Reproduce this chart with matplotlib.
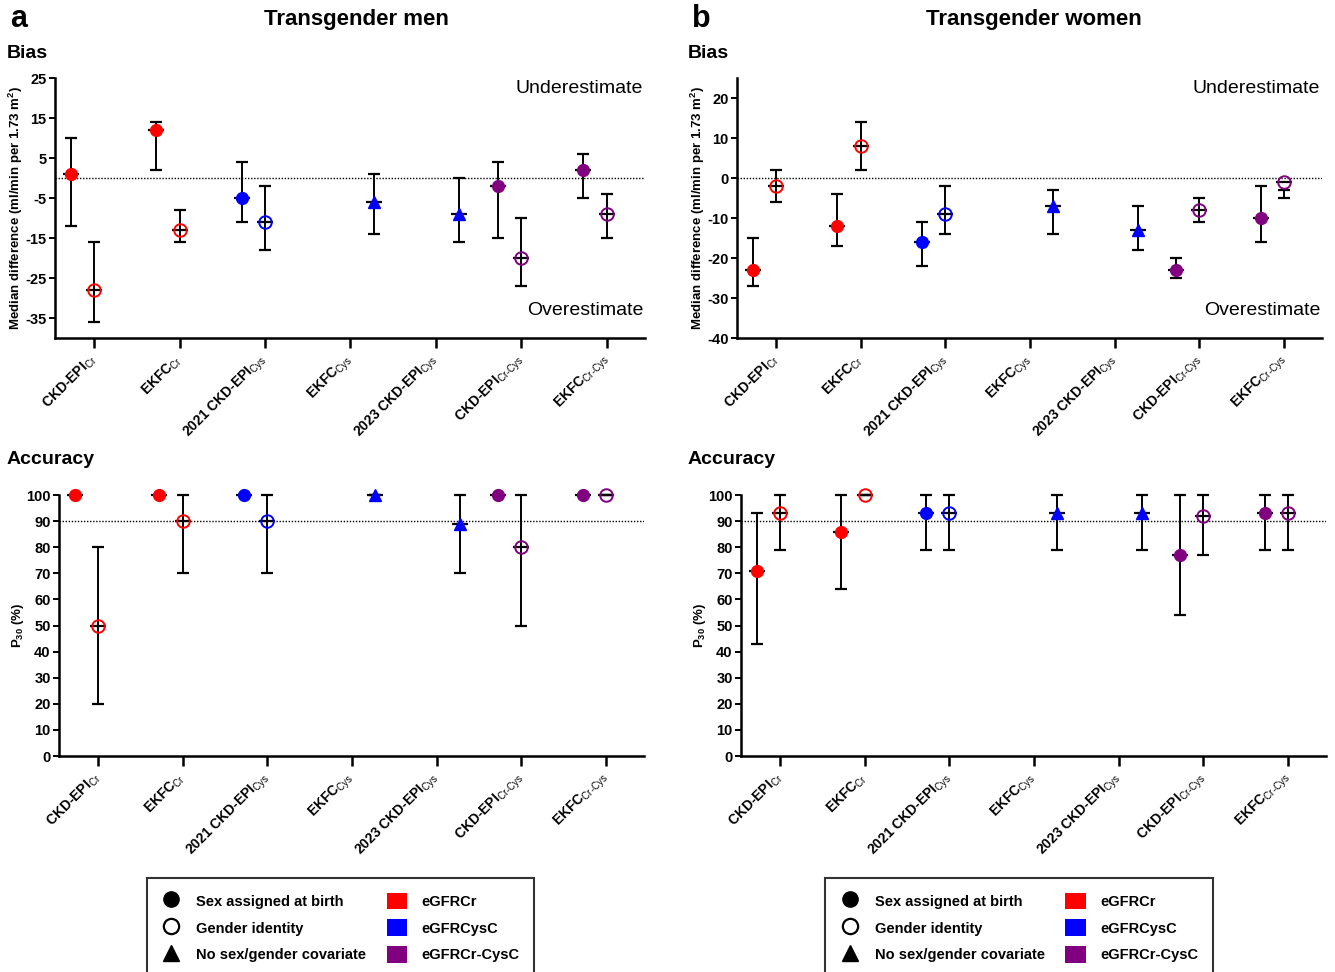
import matplotlib
matplotlib.use('Agg')
import matplotlib.pyplot as plt
from matplotlib.lines import Line2D
from matplotlib.patches import Patch

plt.rcParams['font.family'] = ['Liberation Sans', 'DejaVu Sans']
plt.rcParams['mathtext.fontset'] = 'custom'
plt.rcParams['mathtext.rm'] = 'Liberation Sans'
plt.rcParams['mathtext.bf'] = 'Liberation Sans:bold'
plt.rcParams['mathtext.it'] = 'Liberation Sans:italic'

# ---------------- data ----------------
methods = [r'CKD-EPI$_{\mathrm{Cr}}$', r'EKFC$_{\mathrm{Cr}}$',
           r'2021 CKD-EPI$_{\mathrm{Cys}}$', r'EKFC$_{\mathrm{Cys}}$',
           r'2023 CKD-EPI$_{\mathrm{Cys}}$', r'CKD-EPI$_{\mathrm{Cr\text{-}Cys}}$',
           r'EKFC$_{\mathrm{Cr\text{-}Cys}}$']

point_method = [0, 0, 1, 1, 2, 2, 3, 4, 5, 5, 6, 6]
point_covariate = ['sex', 'gender', 'sex', 'gender', 'sex', 'gender',
                   'none', 'none', 'sex', 'gender', 'sex', 'gender']
point_egfr = ['eGFRCr', 'eGFRCr', 'eGFRCr', 'eGFRCr', 'eGFRCysC', 'eGFRCysC',
              'eGFRCysC', 'eGFRCysC', 'eGFRCr-CysC', 'eGFRCr-CysC',
              'eGFRCr-CysC', 'eGFRCr-CysC']

men_bias_med = [1, -28, 12, -13, -5, -11, -6, -9, -2, -20, 2, -9]
men_bias_lo = [-12, -36, 2, -16, -11, -18, -14, -16, -15, -27, -5, -15]
men_bias_hi = [10, -16, 14, -8, 4, -2, 1, 0, 4, -10, 6, -4]

women_bias_med = [-23, -2, -12, 8, -16, -9, -7, -13, -23, -8, -10, -1]
women_bias_lo = [-27, -6, -17, 2, -22, -14, -14, -18, -25, -11, -16, -5]
women_bias_hi = [-15, 2, -4, 14, -11, -2, -3, -7, -20, -5, -2, -3]

men_p30_med = [100, 50, 100, 90, 100, 90, 100, 89, 100, 80, 100, 100]
men_p30_lo = [100, 20, 100, 70, 100, 70, 100, 70, 100, 50, 100, 100]
men_p30_hi = [100, 80, 100, 100, 100, 100, 100, 100, 100, 100, 100, 100]

women_p30_med = [71, 93, 86, 100, 93, 93, 93, 93, 77, 92, 93, 93]
women_p30_lo = [43, 79, 64, 100, 79, 79, 79, 79, 54, 77, 79, 79]
women_p30_hi = [93, 100, 100, 100, 100, 100, 100, 100, 100, 100, 100, 100]

bias_ticks_men = [25, 15, 5, -5, -15, -25, -35]
bias_ticks_women = [20, 10, 0, -10, -20, -30, -40]
p30_ticks = [0, 10, 20, 30, 40, 50, 60, 70, 80, 90, 100]

legend_covariates = ['Sex assigned at birth', 'Gender identity', 'No sex/gender covariate']
legend_egfr = ['eGFRCr', 'eGFRCysC', 'eGFRCr-CysC']

# ---------------- styles ----------------
colors = {'eGFRCr': '#FF0000', 'eGFRCysC': '#0000FF', 'eGFRCr-CysC': '#800080'}
cov_offset = {'sex': -0.275, 'gender': 0.0, 'none': 0.275}
cov_marker = {'sex': 'o', 'gender': 'o', 'none': '^'}

W, H = 1335, 972
fig = plt.figure(figsize=(W / 100, H / 100), dpi=100)


def rect(x0, y_top, x1, y_bot):
    return [x0 / W, 1 - y_bot / H, (x1 - x0) / W, (y_bot - y_top) / H]


ax_tl = fig.add_axes(rect(55, 78, 645, 338))
ax_tr = fig.add_axes(rect(737, 78, 1322, 338))
ax_bl = fig.add_axes(rect(59, 495, 644, 756))
ax_br = fig.add_axes(rect(741, 495, 1326, 756))


def draw(ax, med, lo, hi, ylim, yticks, ylabel, refline):
    ax.axhline(refline, color='black', ls=(0, (1, 1.2)), lw=1.0, zorder=1)
    for i in range(len(med)):
        cov = point_covariate[i]
        x = point_method[i] + cov_offset[cov]
        c = colors[point_egfr[i]]
        ax.vlines(x, lo[i], hi[i], color='black', lw=1.4, zorder=2, clip_on=False)
        ax.plot([x, x], [lo[i], hi[i]], ls='none', marker='_', ms=8, mew=1.6,
                color='black', zorder=2, clip_on=False)
        ax.plot([x], [med[i]], ls='none', marker='_', ms=12, mew=1.6,
                color='black', zorder=2, clip_on=False)
        if cov == 'gender':
            ax.plot([x], [med[i]], ls='none', marker='o', ms=9, mfc='none',
                    mec=c, mew=1.4, zorder=3, clip_on=False)
        else:
            ax.plot([x], [med[i]], ls='none', marker=cov_marker[cov],
                    ms=8.5, color=c, zorder=3, clip_on=False)
    ax.set_xlim(-0.46, 6.45)
    ax.set_ylim(*ylim)
    ax.set_yticks(yticks)
    ax.set_yticklabels([str(t) for t in yticks], fontweight='bold', fontsize=10.5)
    ax.set_xticks(range(len(methods)))
    ax.set_xticklabels(methods, rotation=45, ha='right', va='center',
                       rotation_mode='anchor', fontweight='bold', fontsize=10)
    for s in ['top', 'right']:
        ax.spines[s].set_visible(False)
    for s in ['left', 'bottom']:
        ax.spines[s].set_linewidth(1.8)
    ax.tick_params(axis='x', length=7, width=1.8, pad=7)
    ax.tick_params(axis='y', length=4, width=1.4, pad=2)
    ax.set_ylabel(ylabel, fontweight='bold', fontsize=9.5, labelpad=0)


bias_label = r'Median difference (ml/min per 1.73 m$^{\mathbf{2}}$)'
p30_label = r'P$_{\mathbf{30}}$ (%)'

draw(ax_tl, men_bias_med, men_bias_lo, men_bias_hi, (-40, 25), bias_ticks_men, bias_label, 0)
draw(ax_tr, women_bias_med, women_bias_lo, women_bias_hi, (-40, 25), bias_ticks_women, bias_label, 0)
draw(ax_bl, men_p30_med, men_p30_lo, men_p30_hi, (0, 100), p30_ticks, p30_label, 90)
draw(ax_br, women_p30_med, women_p30_lo, women_p30_hi, (0, 100), p30_ticks, p30_label, 90)

for ax in (ax_tl, ax_tr):
    ax.text(0.997, 0.96, 'Underestimate', transform=ax.transAxes, ha='right',
            va='center', fontsize=14)
    ax.text(0.997, 0.105, 'Overestimate', transform=ax.transAxes, ha='right',
            va='center', fontsize=14)

# panel titles
fig.text(10 / W, 1 - 19 / H, 'a', fontsize=22, fontweight='bold', va='center')
fig.text(692 / W, 1 - 19 / H, 'b', fontsize=22, fontweight='bold', va='center')
fig.text(356 / W, 1 - 19 / H, 'Transgender men', fontsize=16, fontweight='bold',
         ha='center', va='center')
fig.text(1034 / W, 1 - 19 / H, 'Transgender women', fontsize=16, fontweight='bold',
         ha='center', va='center')
for x0 in (7, 688):
    fig.text(x0 / W, 1 - 54 / H, 'Bias', fontsize=14, fontweight='bold', va='center')
    fig.text(x0 / W, 1 - 460 / H, 'Accuracy', fontsize=14, fontweight='bold', va='center')

# legends
def make_handles():
    hs = [Line2D([], [], ls='none', marker='o', color='black', ms=11),
          Line2D([], [], ls='none', marker='o', mfc='white', mec='black', mew=1.6, ms=11),
          Line2D([], [], ls='none', marker='^', color='black', ms=11)]
    hs += [Patch(facecolor=colors[k], edgecolor='none') for k in legend_egfr]
    return hs


for cx in (340.5, 1019):
    leg = fig.legend(make_handles(), legend_covariates + legend_egfr, ncol=2,
                     loc='upper center', bbox_to_anchor=(cx / W, 1 - 878 / H),
                     prop={'weight': 'bold', 'size': 10.5}, frameon=True,
                     fancybox=False, edgecolor='black', handlelength=1.4,
                     handleheight=1.35, handletextpad=1.0, columnspacing=1.4,
                     labelspacing=0.72, borderpad=1.0, borderaxespad=0)
    leg.get_frame().set_linewidth(1.5)

fig.savefig('out.png', dpi=100)
